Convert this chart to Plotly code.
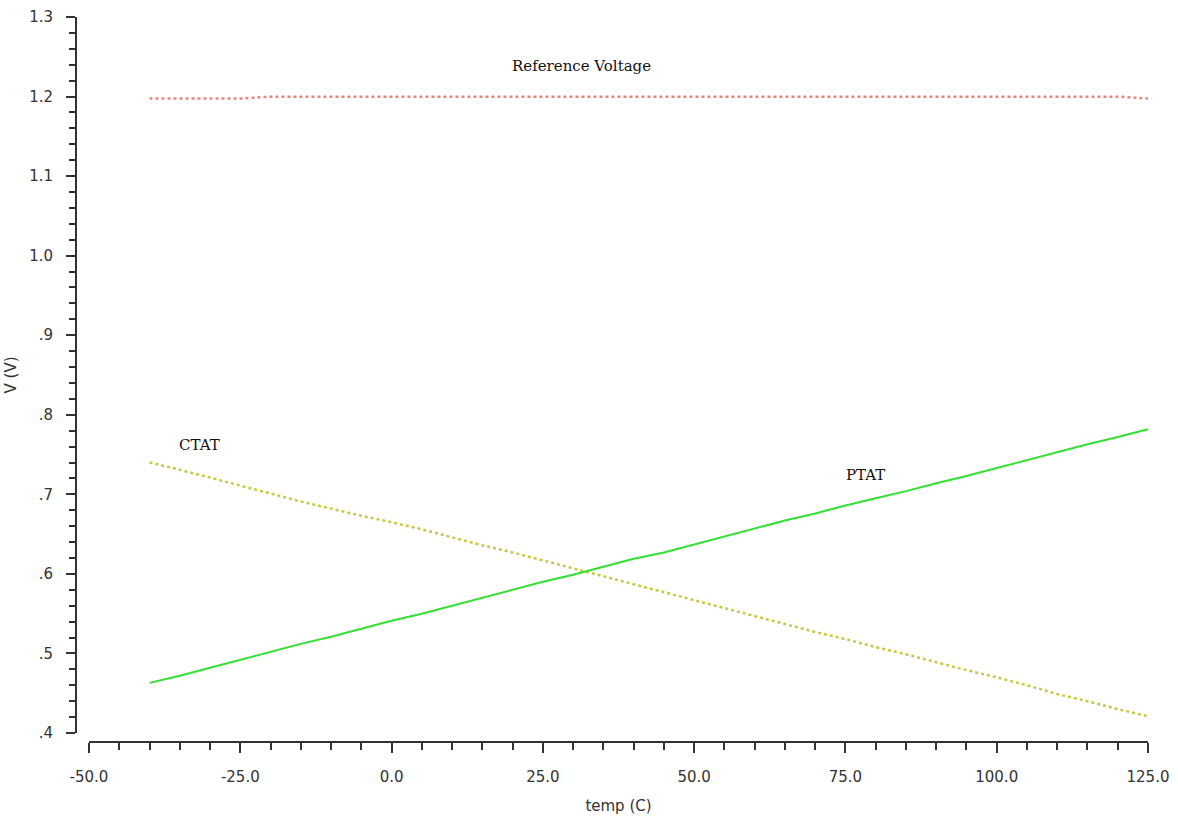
import plotly.graph_objects as go

temp = [-40, -35, -30, -25, -20, -15, -10, -5, 0, 5, 10, 15, 20, 25, 30, 35, 40, 45,
        50, 55, 60, 65, 70, 75, 80, 85, 90, 95, 100, 105, 110, 115, 120, 125]

ctat = [0.740, 0.731, 0.721, 0.711, 0.701, 0.691, 0.682, 0.673, 0.665, 0.656, 0.646, 0.636,
        0.627, 0.617, 0.607, 0.597, 0.587, 0.577, 0.567, 0.557, 0.547, 0.537, 0.527, 0.518,
        0.508, 0.499, 0.489, 0.479, 0.470, 0.460, 0.449, 0.440, 0.430, 0.421]

ptat = [0.463, 0.472, 0.482, 0.492, 0.502, 0.512, 0.521, 0.531, 0.541, 0.550, 0.560, 0.570,
        0.580, 0.590, 0.599, 0.609, 0.619, 0.627, 0.637, 0.647, 0.657, 0.667, 0.676, 0.686,
        0.695, 0.704, 0.714, 0.723, 0.733, 0.743, 0.753, 0.763, 0.772, 0.782]

vref = [1.1975, 1.1975, 1.1975, 1.1975, 1.1999, 1.1999, 1.1999, 1.1999, 1.1999, 1.1999,
        1.1999, 1.1999, 1.1999, 1.1999, 1.1999, 1.1999, 1.1999, 1.1999, 1.1999, 1.1999,
        1.1999, 1.1999, 1.1999, 1.1999, 1.1999, 1.1999, 1.1999, 1.1999, 1.1999, 1.1999,
        1.1999, 1.1999, 1.1999, 1.1975]

x_ticks = [-50, -25, 0, 25, 50, 75, 100, 125]
x_labels = ["-50.0", "-25.0", "0.0", "25.0", "50.0", "75.0", "100.0", "125.0"]
y_ticks = [0.4, 0.5, 0.6, 0.7, 0.8, 0.9, 1.0, 1.1, 1.2, 1.3]
y_labels = [".4", ".5", ".6", ".7", ".8", ".9", "1.0", "1.1", "1.2", "1.3"]

labels = ["Reference Voltage", "CTAT", "PTAT"]
label_x = [31.4, -31.8, 78.3]
label_y = [1.238, 0.762, 0.724]

fig = go.Figure()
fig.add_trace(go.Scatter(x=temp, y=vref, mode="lines",
                         line=dict(color="rgb(228,135,125)", width=2.5, dash="dot")))
fig.add_trace(go.Scatter(x=temp, y=ctat, mode="lines",
                         line=dict(color="rgb(200,200,70)", width=2.5, dash="dot")))
fig.add_trace(go.Scatter(x=temp, y=ptat, mode="lines",
                         line=dict(color="rgb(50,225,50)", width=2)))

for t, xv, yv in zip(labels, label_x, label_y):
    fig.add_annotation(x=xv, y=yv, text=t, showarrow=False, xanchor="center", yanchor="middle",
                       font=dict(family="DejaVu Serif", size=15, color="#111"))

W, H = 1178, 820
l, r, t_, b = 76, 30, 17, 78
pw = W - l - r
ph = H - t_ - b

fig.update_layout(
    width=W, height=H,
    margin=dict(l=l, r=r, t=t_, b=b),
    paper_bgcolor="white", plot_bgcolor="white",
    showlegend=False,
    font=dict(family="DejaVu Sans", size=15, color="#333"),
    xaxis=dict(domain=[(89 - l) / pw, 1], range=[-50, 125], anchor="free", position=0,
               automargin=False,
               tickmode="array", tickvals=x_ticks, ticktext=x_labels,
               ticks="outside", ticklen=10, tickwidth=2, tickcolor="#333",
               showline=True, linecolor="#333", linewidth=2, showgrid=False, zeroline=False,
               ticklabelstandoff=11,
               minor=dict(dtick=5, ticks="outside", ticklen=7, tickwidth=2, tickcolor="#333", showgrid=False),
               title=dict(text="temp (C)", font=dict(size=15, color="#333"), standoff=14)),
    yaxis=dict(domain=[(742 - 733) / ph, 1], range=[0.4, 1.3], anchor="free", position=0,
               automargin=False,
               tickmode="array", tickvals=y_ticks, ticktext=y_labels,
               ticks="outside", ticklen=9, tickwidth=2, tickcolor="#333",
               showline=True, linecolor="#333", linewidth=2, showgrid=False, zeroline=False,
               ticklabelstandoff=10,
               minor=dict(dtick=0.02, tick0=0.4, ticks="outside", ticklen=6, tickwidth=2, tickcolor="#333", showgrid=False),
               title=dict(text="V (V)", font=dict(size=15, color="#333"), standoff=8)),
)

fig.write_html("out.html")
